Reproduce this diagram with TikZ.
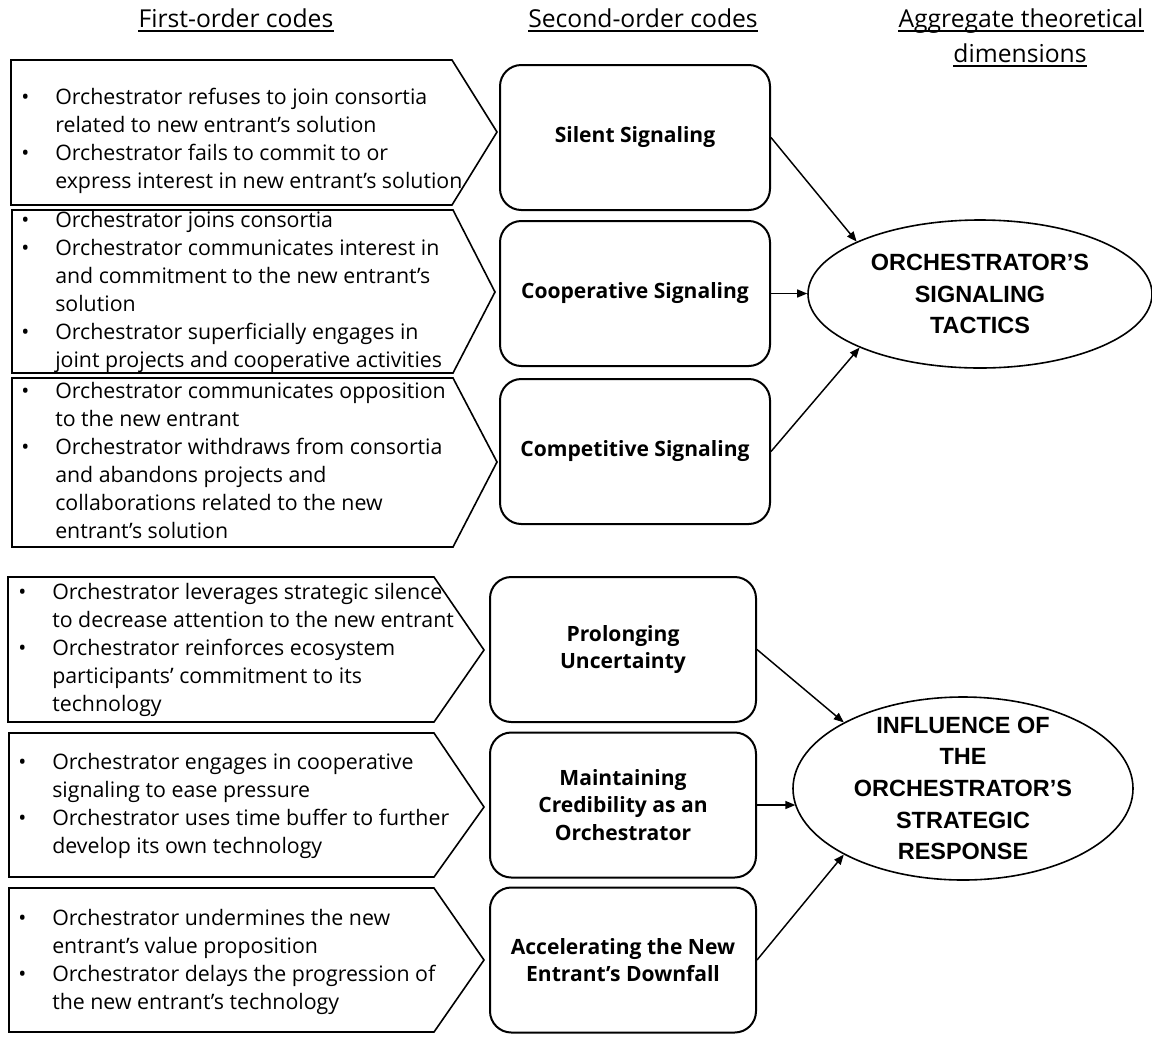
\documentclass[tikz,border=0pt]{standalone}
\usepackage{fontspec}
\setmainfont{Open Sans}
\newfontfamily\arialfont{Liberation Sans}
\usetikzlibrary{arrows.meta,shapes.geometric}
\newcommand{\bodyfont}{\fontsize{16}{21}\selectfont}
\newcommand{\hdrfont}{\fontsize{18.5}{22}\selectfont}
\newcommand{\boxfont}{\fontsize{15.8}{20.4}\selectfont\bfseries}
\newcommand{\ellfont}{\arialfont\bfseries\fontsize{17.6}{23.7}\selectfont}
\newcommand{\mbul}{\makebox[25.5pt][l]{\textbullet}}
\begin{document}
\begin{tikzpicture}[x=0.75pt,y=-0.75pt,
  penta/.style={draw, line width=1.2pt, line join=miter},
  codebox/.style={draw, rounded corners=16pt, line width=1.5pt, minimum width=202.5pt,
    minimum height=108.75pt, align=center, font=\boxfont, inner sep=0pt},
  dimell/.style={draw, ellipse, line width=1.2pt, inner sep=0pt},
  dimtext/.style={font=\ellfont, align=center, inner sep=0pt},
  conn/.style={-{Triangle[length=7.5pt,width=6pt]}, line width=1.1pt},
  bullets/.style={anchor=west, inner sep=0pt, font=\bodyfont, align=left},
  hdr/.style={anchor=base, inner sep=0pt, font=\hdrfont},
  uline/.style={line width=0.9pt}]
\useasboundingbox (0,0) rectangle (1152,1036);

% headers
\node[hdr] (h1) at (236,27) {First-order codes};
\node[hdr] (h2) at (643,27) {Second-order codes};
\node[hdr] (h3) at (1021,27) {Aggregate theoretical};
\node[hdr] (h4) at (1020,62) {dimensions};
\foreach \h in {h1,h2,h3,h4}
  \draw[uline] ([yshift=-3pt]\h.base west) -- ([yshift=-3pt]\h.base east);

% first-order pentagons
\draw[penta] (11,60) -- (452,60) -- (497,132) -- (452,205) -- (11,205) -- cycle;
\draw[penta] (12,210) -- (453,210) -- (495,292) -- (453,373) -- (12,373) -- cycle;
\draw[penta] (12,378) -- (453,378) -- (497,462) -- (453,547) -- (12,547) -- cycle;
\draw[penta] (8,577) -- (434,577) -- (484,650) -- (434,722) -- (8,722) -- cycle;
\draw[penta] (9,733) -- (434,733) -- (484,807) -- (434,877) -- (9,877) -- cycle;
\draw[penta] (9,888) -- (434,888) -- (484,960) -- (434,1032) -- (9,1032) -- cycle;

\node[bullets] (f1) at (21,141) {\begin{tabular}{@{}l@{}l@{}}
\mbul & Orchestrator refuses to join consortia\\
 & related to new entrant’s solution\\
\mbul & Orchestrator fails to commit to or\\
 & express interest in new entrant’s solution
\end{tabular}};
\node[bullets] (f2) at (21,292) {\begin{tabular}{@{}l@{}l@{}}
\mbul & Orchestrator joins consortia\\
\mbul & Orchestrator communicates interest in\\
 & and commitment to the new entrant’s\\
 & solution\\
\mbul & Orchestrator superficially engages in\\
 & joint projects and cooperative activities
\end{tabular}};
\node[bullets] (f3) at (21,463) {\begin{tabular}{@{}l@{}l@{}}
\mbul & Orchestrator communicates opposition\\
 & to the new entrant\\
\mbul & Orchestrator withdraws from consortia\\
 & and abandons projects and\\
 & collaborations related to the new\\
 & entrant’s solution
\end{tabular}};
\node[bullets] (f4) at (18,650) {\begin{tabular}{@{}l@{}l@{}}
\mbul & Orchestrator leverages strategic silence\\
 & to decrease attention to the new entrant\\
\mbul & Orchestrator reinforces ecosystem\\
 & participants’ commitment to its\\
 & technology
\end{tabular}};
\node[bullets] (f5) at (18,806) {\begin{tabular}{@{}l@{}l@{}}
\mbul & Orchestrator engages in cooperative\\
 & signaling to ease pressure\\
\mbul & Orchestrator uses time buffer to further\\
 & develop its own technology
\end{tabular}};
\node[bullets] (f6) at (18,962) {\begin{tabular}{@{}l@{}l@{}}
\mbul & Orchestrator undermines the new\\
 & entrant’s value proposition\\
\mbul & Orchestrator delays the progression of\\
 & the new entrant’s technology
\end{tabular}};

% second-order boxes
\node[codebox] (s1) at (635,137.5) {Silent Signaling};
\node[codebox] (s2) at (635,293.5) {Cooperative Signaling};
\node[codebox] (s3) at (635,451.5) {Competitive Signaling};
\node[codebox, minimum width=199.5pt] (s4) at (623,649.5) {Prolonging\\Uncertainty};
\node[codebox, minimum width=199.5pt] (s5) at (623,805) {Maintaining\\Credibility as an\\Orchestrator};
\node[codebox, minimum width=199.5pt] (s6) at (623,960) {Accelerating the New\\Entrant’s Downfall};

% aggregate dimensions
\node[dimell, minimum width=258pt, minimum height=111pt] (d1) at (980,294) {};
\node[dimtext] (d1t) at (d1.center) {ORCHESTRATOR’S\\SIGNALING\\TACTICS};
\node[dimell, minimum width=255pt, minimum height=137.25pt] (d2) at (963,788.5) {};
\node[dimtext] (d2t) at (d2.center) {INFLUENCE OF\\THE\\ORCHESTRATOR’S\\STRATEGIC\\RESPONSE};

% connectors
\draw[conn] (s1.east) -- (d1.157);
\draw[conn] (s2.east) -- (s2.east -| d1.west);
\draw[conn] (s3.east) -- (d1.204);
\draw[conn] (s4.east) -- (d2.151);
\draw[conn] (s5.east) -- (s5.east -| d2.186);
\draw[conn] (s6.east) -- (d2.209);
\end{tikzpicture}
\end{document}
